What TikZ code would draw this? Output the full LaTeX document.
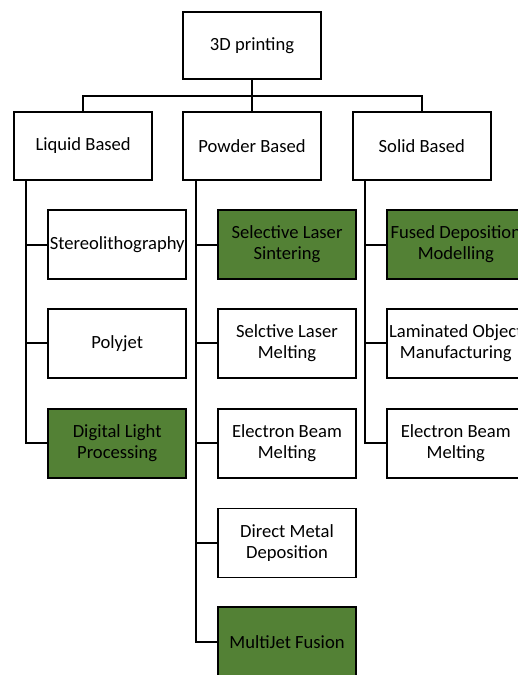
\documentclass[tikz,border=0pt]{standalone}
\usepackage{fontspec}
\setmainfont{Carlito}
\usetikzlibrary{positioning}
\definecolor{leafgreen}{HTML}{538135}

\begin{document}
\begin{tikzpicture}[
        x=1pt, y=-1pt,
        node distance=29pt and 29pt,
        box/.style={rectangle, draw, line width=1.8pt, minimum width=138pt, minimum height=68pt, inner sep=1pt, align=center, font=\fontsize{18.6}{21}\selectfont},
        leaf/.style={box, minimum height=69pt},
        hit/.style={leaf, fill=leafgreen},
        link/.style={line width=2pt}
    ]
    \useasboundingbox (0,0) rectangle (518,675);

    % Root
    \node[box, minimum height=67pt] (root) at (252,45.5) {3D printing};

    % Categories
    \node[box, below=31pt of root] (powder) {Powder Based};
    \node[box, left=29pt of powder] (liquid) {Liquid Based};
    \node[box, right=30pt of powder] (solid) {Solid Based};

    % Liquid based
    \node[leaf, below=28.5pt of liquid, xshift=34pt] (sla) {Stereolithography};
    \node[leaf, below=28pt of sla] (polyjet) {Polyjet};
    \node[hit, below=29pt of polyjet] (dlp) {Digital Light\\Processing};

    % Powder based
    \node[hit, below=28.5pt of powder, xshift=35pt] (sls) {Selective Laser\\Sintering};
    \node[leaf, below=28pt of sls] (slm) {Selctive Laser\\Melting};
    \node[leaf, below=29pt of slm] (ebm) {Electron Beam\\Melting};
    \node[leaf, below=29pt of ebm] (dmd) {Direct Metal\\Deposition};
    \node[hit, below=28pt of dmd] (mjf) {MultiJet Fusion};

    % Solid based
    \node[hit, below=28.5pt of solid, xshift=34pt] (fdm) {Fused Deposition\\Modelling};
    \node[leaf, below=28pt of fdm] (lom) {Laminated Object\\Manufacturing};
    \node[leaf, below=29pt of lom] (ebm2) {Electron Beam\\Melting};

    % Edges
    \draw[link] (root.south) -- ++(0,16) -| (liquid.north);
    \draw[link] (root.south) -- (powder.north);
    \draw[link] (root.south) -- ++(0,16) -| (solid.north);
    \draw[link] ([xshift=13pt]liquid.south west) |- (sla.west);
    \draw[link] ([xshift=13pt]liquid.south west) |- (polyjet.west);
    \draw[link] ([xshift=13pt]liquid.south west) |- (dlp.west);
    \draw[link] ([xshift=14pt]powder.south west) |- (sls.west);
    \draw[link] ([xshift=14pt]powder.south west) |- (slm.west);
    \draw[link] ([xshift=14pt]powder.south west) |- (ebm.west);
    \draw[link] ([xshift=14pt]powder.south west) |- (dmd.west);
    \draw[link] ([xshift=14pt]powder.south west) |- (mjf.west);
    \draw[link] ([xshift=13pt]solid.south west) |- (fdm.west);
    \draw[link] ([xshift=13pt]solid.south west) |- (lom.west);
    \draw[link] ([xshift=13pt]solid.south west) |- (ebm2.west);
\end{tikzpicture}
\end{document}
